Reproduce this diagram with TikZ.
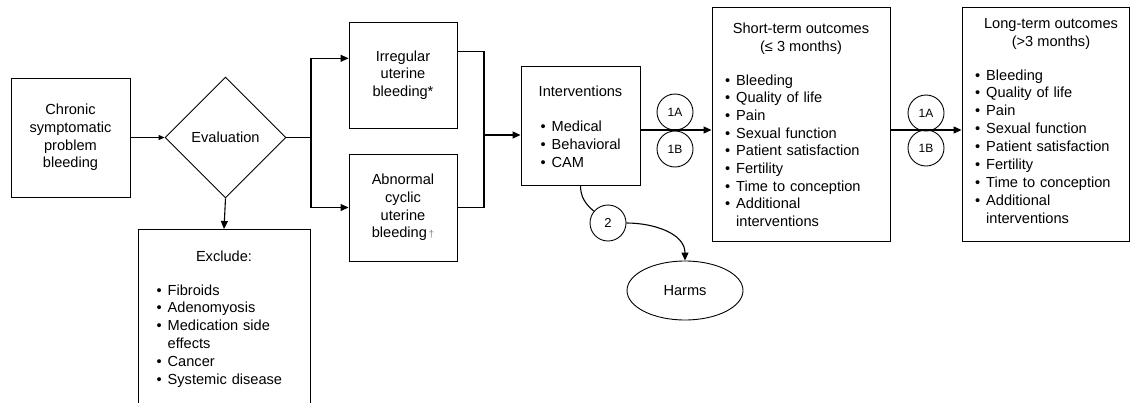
\documentclass[tikz,border=0pt]{standalone}
\usepackage{fontspec}
\setmainfont{Liberation Sans}
\usetikzlibrary{shapes.geometric,arrows.meta,calc}
\newcommand\bulit{\leavevmode\llap{•\hspace{6pt}}}
\newcommand\contl{\leavevmode}
\begin{document}
\begin{tikzpicture}[x=1pt,y=-1pt,
  every node/.style={font=\fontsize{14.6}{17.7}\selectfont},
  box/.style={draw, line width=0.9pt, inner sep=0pt, rectangle},
  lst/.style={text width=170pt, align=left, inner sep=0pt, anchor=base west},
  ttl/.style={inner sep=0pt, anchor=base},
  num/.style={draw, circle, line width=0.9pt, minimum size=36pt, inner sep=0pt, font=\fontsize{12}{12}\selectfont},
  ln/.style={line width=1.1pt},
  arr/.style={line width=1.1pt, -{Triangle[length=8pt,width=7pt]}},
  arrs/.style={line width=1.1pt, -{Triangle[length=6pt,width=5pt]}}]
\useasboundingbox (0,0) rectangle (1130,402);
\clip (0,0) rectangle (1130,402);
% boxes
\node[box, minimum width=119pt, minimum height=119pt, align=center] (chronic) at (70.5,137.5) {Chronic\\symptomatic\\problem\\bleeding};
\node[box, diamond, minimum width=121pt, minimum height=121pt] (eval) at (225.5,137.5) {Evaluation};
\node[box, minimum width=108pt, minimum height=106pt, align=center] (irr) at (403,75) {Irregular\\uterine\\bleeding*};
\node[box, minimum width=108pt, minimum height=107pt, align=center] (abn) at (403,207.5) {Abnormal\\cyclic\\uterine\\bleeding{\color{gray}\fontsize{10}{10}\selectfont\,†}};
\node[box, minimum width=172pt, minimum height=190pt, anchor=north] (exc) at (224,229) {};
\node[ttl] (exct) at (224,261) {Exclude:};
\node[lst, font=\fontsize{14.6}{17.8}\selectfont] (excl) at (167.5,295) {\bulit Fibroids\\\bulit Adenomyosis\\\bulit Medication side\\\contl effects\\\bulit Cancer\\\bulit Systemic disease};
\node[box, minimum width=119pt, minimum height=119pt] (interv) at (580.5,125.5) {};
\node[ttl] (intt) at (580.5,96) {Interventions};
\node[lst, font=\fontsize{14.6}{18}\selectfont] (intl) at (551.5,131) {\bulit Medical\\\bulit Behavioral\\\bulit CAM};
\node[box, minimum width=178pt, minimum height=234pt] (short) at (801,124) {};
\node[ttl] (shortt1) at (801,33.5) {Short-term outcomes};
\node[ttl] (shortt2) at (801,51.5) {(≤ 3 months)};
\node[lst] (shortl) at (736,85) {\bulit Bleeding\\\bulit Quality of life\\\bulit Pain\\\bulit Sexual function\\\bulit Patient satisfaction\\\bulit Fertility\\\bulit Time to conception\\\bulit Additional\\\contl interventions};
\node[box, minimum width=167pt, minimum height=234pt] (long) at (1045.5,124) {};
\node[ttl] (longt1) at (1051,28.5) {Long-term outcomes};
\node[ttl] (longt2) at (1051,46.5) {(>3 months)};
\node[lst, font=\fontsize{14.6}{17.9}\selectfont] (longl) at (986,80) {\bulit Bleeding\\\bulit Quality of life\\\bulit Pain\\\bulit Sexual function\\\bulit Patient satisfaction\\\bulit Fertility\\\bulit Time to conception\\\bulit Additional\\\contl interventions};
\node[draw, ellipse, line width=0.9pt, minimum width=116pt, minimum height=59pt, inner sep=0pt] (harms) at (685,290.5) {Harms};
% numbered circles
\node[num] (c1a) at (675,112) {1A};
\node[num] (c1b) at (675,149) {1B};
\node[num] (c1a2) at (926,113) {1A};
\node[num] (c1b2) at (926,148) {1B};
\node[num, font=\fontsize{13}{13}\selectfont] (c2) at (608,223) {2};
% helper coordinates
\coordinate (jn) at (311,137.5);
\coordinate (bx) at (484,135);
\coordinate (ya) at (0,130);
% connectors
\draw[arrs] (chronic.east) -- (eval.west);
\draw[ln] (eval.east) -- (jn);
\draw[arr] (jn) |- ([yshift=16.7pt]irr.west);
\draw[arr] (jn) |- (abn.west);
\draw[arr] (eval.south) -- (exc.north);
\draw[ln] ([yshift=23.3pt]irr.east) -| (bx) |- (abn.east);
\draw[arr] (bx) -- (bx -| interv.west);
\draw[arr] (interv.east |- ya) -- (short.west |- ya);
\draw[arr] (short.east |- ya) -- (long.west |- ya);
\draw[ln] (interv.south) to[out=-90,in=140] (c2);
\draw[arr] (c2) to[out=0,in=90] (harms);
\end{tikzpicture}
\end{document}
